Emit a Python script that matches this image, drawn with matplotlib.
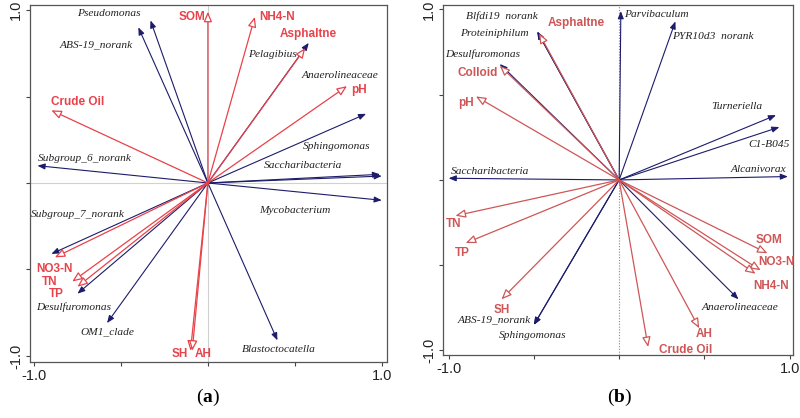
"""
plot.py
Dua biplot RDA (a) dan (b): panah spesies (biru tua) dan panah faktor
lingkungan (merah, kepala panah terbuka). Disimpan ke out.png.
"""

import matplotlib
matplotlib.use("Agg")
import matplotlib.pyplot as plt

# ---- data panel (a) ----
A_ENV = ["SOM", "NH4-N", "Asphaltne", "pH", "Crude Oil", "NO3-N", "TN", "TP", "SH", "AH"]
A_ENV_X = [0.00, 0.27, 0.56, 0.80, -0.90, -0.88, -0.78, -0.75, -0.10, -0.09]
A_ENV_Y = [0.99, 0.96, 0.78, 0.56, 0.42, -0.43, -0.57, -0.60, -0.97, -0.97]

A_SPE = ["Pseudomonas", "ABS-19_norank", "Subgroup_6_norank", "Pelagibius",
         "Anaerolineaceae", "Sphingomonas", "Saccharibacteria", "Mycobacterium",
         "Subgroup_7_norank", "Desulfuromonas", "OM1_clade", "Blastoctocatella"]
A_SPE_X = [-0.33, -0.40, -0.98, 0.58, 0.91, 0.99, 1.00, 1.00, -0.90, -0.75, -0.58, 0.40]
A_SPE_Y = [0.94, 0.90, 0.10, 0.81, 0.40, 0.05, 0.04, -0.10, -0.41, -0.64, -0.81, -0.91]

# ---- data panel (b) ----
B_ENV = ["Asphaltne", "Colloid", "pH", "TN", "TP", "SH", "SOM", "NO3-N", "NH4-N", "AH", "Crude Oil"]
B_ENV_X = [-0.47, -0.70, -0.84, -0.96, -0.90, -0.69, 0.87, 0.83, 0.80, 0.47, 0.17]
B_ENV_Y = [0.86, 0.67, 0.49, -0.21, -0.37, -0.70, -0.43, -0.53, -0.55, -0.87, -0.98]

B_SPE = ["Saccharibacteria", "Proteiniphilum", "Blfdi19  norank", "Desulfuromonas",
         "Parvibaculum", "PYR10d3  norank", "Turneriella", "C1-B045", "Alcanivorax",
         "ABS-19_norank", "Sphingomonas", "Anaerolineaceae"]
B_SPE_X = [-1.00, -0.48, -0.48, -0.70, 0.01, 0.33, 0.92, 0.94, 0.99, -0.50, -0.50, 0.70]
B_SPE_Y = [0.01, 0.87, 0.87, 0.68, 0.99, 0.93, 0.38, 0.31, 0.02, -0.85, -0.85, -0.70]

# posisi label (ditaruh manual seperti gambar aslinya), koordinat data
A_ENV_LBL = [(-0.09, 0.96), (0.40, 0.96), (0.58, 0.86), (0.87, 0.54), (-0.75, 0.47),
             (-0.88, -0.50), (-0.91, -0.57), (-0.87, -0.64), (-0.16, -0.99), (-0.03, -0.99)]
A_SPE_LBL = [(-0.57, 0.98), (-0.64, 0.80), (-0.71, 0.14), (0.37, 0.74), (0.76, 0.62),
             (0.74, 0.21), (0.55, 0.10), (0.50, -0.16), (-0.75, -0.18), (-0.77, -0.72),
             (-0.58, -0.86), (0.41, -0.96)]
B_ENV_LBL = [(-0.25, 0.92), (-0.83, 0.63), (-0.90, 0.45), (-0.97, -0.26), (-0.92, -0.43),
             (-0.69, -0.76), (0.88, -0.35), (0.92, -0.48), (0.89, -0.62), (0.50, -0.905),
             (0.39, -1.0)]
B_SPE_LBL = [(-0.76, 0.05), (-0.73, 0.86), (-0.69, 0.96), (-0.80, 0.74), (0.22, 0.97),
             (0.55, 0.84), (0.69, 0.43), (0.88, 0.21), (0.82, 0.06), (-0.73, -0.82),
             (-0.51, -0.91), (0.71, -0.75)]

NAVY = "#1c1c6b"
RED_A = "#e8424a"
RED_B = "#cf5656"


def panah(ax, x, y, color, open_head):
    if open_head:
        props = dict(arrowstyle="-|>,head_length=0.6,head_width=0.25", mutation_scale=10,
                     fc="white", ec=color, lw=0.9, shrinkA=0, shrinkB=0)
        z = 3
    else:
        props = dict(arrowstyle="-|>,head_length=0.55,head_width=0.22", mutation_scale=8,
                     fc=color, ec=color, lw=0.8, shrinkA=0, shrinkB=0)
        z = 2
    ax.annotate("", xy=(x, y), xytext=(0, 0), arrowprops=props, zorder=z)


def gambar_panel(ax, env, ex, ey, elbl, spe, sx, sy, slbl, red, xlim, ylim, dotted):
    for n, x, y, (lx, ly) in zip(spe, sx, sy, slbl):
        panah(ax, x, y, NAVY, False)
        ax.text(lx, ly, n, family="Liberation Serif", style="italic", fontsize=8.2,
                color="#222222", ha="center", va="center", zorder=5)
    for n, x, y, (lx, ly) in zip(env, ex, ey, elbl):
        panah(ax, x, y, red, True)
        ax.text(lx, ly, n, family="Liberation Sans", fontweight="bold", fontsize=8.5,
                color=red, ha="center", va="center", zorder=5)

    if dotted:
        ax.axvline(0, color="#888888", lw=0.8, ls=(0, (1, 1.5)), zorder=1)
    else:
        ax.axvline(0, color="#cfcfcf", lw=0.8, zorder=1)
        ax.axhline(0, color="#d6d3b8", lw=0.8, zorder=1)

    ax.set_xlim(*xlim)
    ax.set_ylim(*ylim)
    ticks = [-1.0, -0.5, 0.0, 0.5, 1.0]
    lbls = ["-1.0", "", "", "", "1.0"]
    ax.set_xticks(ticks, lbls)
    ax.set_yticks(ticks, lbls)
    for t in ax.get_yticklabels():
        t.set_rotation(90)
        t.set_va("center")
    ax.tick_params(direction="out", length=3, width=0.8, color="#444444",
                   labelsize=10.5, labelcolor="#222222", pad=2)
    for s in ax.spines.values():
        s.set_color("#555555")
        s.set_linewidth(0.9)


def main():
    plt.rcParams["font.family"] = ["Liberation Sans", "DejaVu Sans"]
    plt.rcParams["mathtext.fontset"] = "custom"
    plt.rcParams["mathtext.bf"] = "Liberation Serif:bold"
    plt.rcParams["mathtext.rm"] = "Liberation Serif"

    fig = plt.figure(figsize=(8, 4.18), dpi=100)
    ax_a = fig.add_axes([0.0375, 0.134, 0.446, 0.854])
    ax_b = fig.add_axes([0.554, 0.151, 0.4375, 0.837])

    gambar_panel(ax_a, A_ENV, A_ENV_X, A_ENV_Y, A_ENV_LBL, A_SPE, A_SPE_X, A_SPE_Y,
                 A_SPE_LBL, RED_A, (-1.023, 1.029), (-1.035, 1.029), False)
    gambar_panel(ax_b, B_ENV, B_ENV_X, B_ENV_Y, B_ENV_LBL, B_SPE, B_SPE_X, B_SPE_Y,
                 B_SPE_LBL, RED_B, (-1.032, 1.021), (-1.026, 1.026), True)

    fig.text(0.26, 0.048, r"($\mathbf{a}$)", family="Liberation Serif", fontsize=14,
             ha="center", va="center")
    fig.text(0.775, 0.048, r"($\mathbf{b}$)", family="Liberation Serif", fontsize=14,
             ha="center", va="center")

    fig.savefig("out.png", dpi=100)


if __name__ == "__main__":
    main()
